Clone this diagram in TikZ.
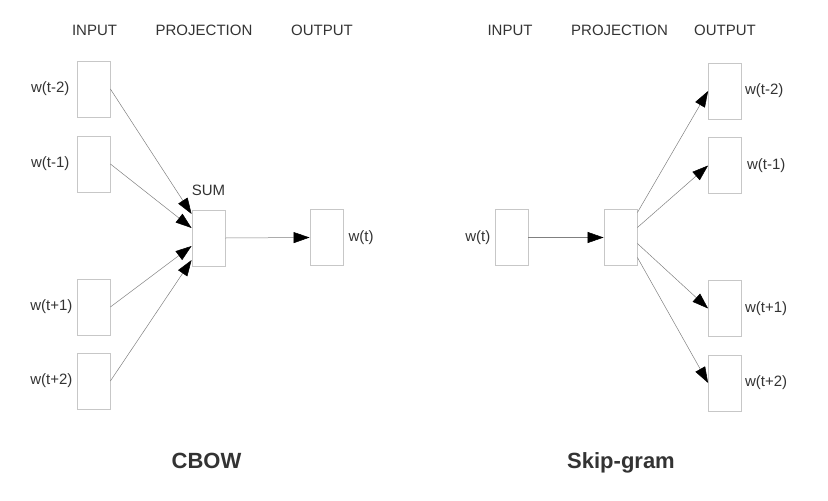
\documentclass[tikz,border=0pt]{standalone}
\usepackage{fontspec}
\setmainfont{Liberation Sans}
\usetikzlibrary{arrows.meta}
\usetikzlibrary{positioning}

\begin{document}
\begin{tikzpicture}[
            x=1pt,y=-1pt,
            every node/.style={inner sep=0pt,text=black!80},
            wordbox/.style={rectangle,draw=black!22,line width=0.8pt,minimum width=33pt,minimum height=56pt},
            word/.style={font=\fontsize{15}{18}\selectfont},
            title/.style={font=\fontsize{22}{26}\selectfont\bfseries}
        ]
        \tikzset{>={Triangle[length=16pt,width=11pt,black]}}
        \tikzset{link/.style={draw=black!50,line width=0.5pt,->}}
        \useasboundingbox (0,0) rectangle (828,501);

        % CBOW
        \node[word,anchor=base] (cbow input head) at (94.5,35) {INPUT};
        \node[word,anchor=base] (cbow proj head) at (204,35) {PROJECTION};
        \node[word,anchor=base] (cbow output head) at (322,35) {OUTPUT};
        \node[wordbox] (cbow in1) at (93.5,89) {};
        \node[wordbox] (cbow in2) at (93.5,164) {};
        \node[wordbox] (cbow in3) at (93.5,307) {};
        \node[wordbox] (cbow in4) at (93.5,381) {};
        \node[word,left=7pt of cbow in1] {w(t-2)};
        \node[word,left=7pt of cbow in2] {w(t-1)};
        \node[word,left=4pt of cbow in3] {w(t+1)};
        \node[word,left=4pt of cbow in4] {w(t+2)};
        \node[wordbox] (cbow sum) at (208.5,238) {};
        \node[word,above=14pt of cbow sum] (sum label) {SUM};
        \node[wordbox] (cbow out) at (326.5,237.5) {};
        \node[word,right=5pt of cbow out] {w(t)};
        \draw[link] (cbow in1.east) -- ([yshift=24pt]cbow sum.west);
        \draw[link] (cbow in2.east) -- ([yshift=10pt]cbow sum.west);
        \draw[link] (cbow in3.east) -- ([yshift=-8pt]cbow sum.west);
        \draw[link] (cbow in4.east) -- ([yshift=-22pt]cbow sum.west);
        \draw[link] (cbow sum.east) -- (cbow out.west);
        \node[title,anchor=base] (cbow title) at (206.5,468) {CBOW};

        % Skip-gram
        \node[word,anchor=base] (skip input head) at (510,35) {INPUT};
        \node[word,anchor=base] (skip proj head) at (619.5,35) {PROJECTION};
        \node[word,anchor=base] (skip output head) at (725,35) {OUTPUT};
        \node[wordbox] (skip in) at (511.5,237.5) {};
        \node[word,left=4pt of skip in] {w(t)};
        \node[wordbox] (skip proj) at (620.5,237.5) {};
        \node[wordbox] (skip out1) at (725,91) {};
        \node[wordbox] (skip out2) at (725,165.5) {};
        \node[wordbox] (skip out3) at (725,308.5) {};
        \node[wordbox] (skip out4) at (725,383) {};
        \node[word,right=3pt of skip out1] {w(t-2)};
        \node[word,right=5pt of skip out2] {w(t-1)};
        \node[word,right=3pt of skip out3] {w(t+1)};
        \node[word,right=3pt of skip out4] {w(t+2)};
        \draw[link] (skip in.east) -- (skip proj.west);
        \draw[link] ([yshift=25pt]skip proj.east) -- (skip out1.west);
        \draw[link] ([yshift=10pt]skip proj.east) -- (skip out2.west);
        \draw[link] ([yshift=-6pt]skip proj.east) -- (skip out3.west);
        \draw[link] ([yshift=-20pt]skip proj.east) -- (skip out4.west);
        \node[title,anchor=base] (skip title) at (621,468) {Skip-gram};
    \end{tikzpicture}
\end{document}
